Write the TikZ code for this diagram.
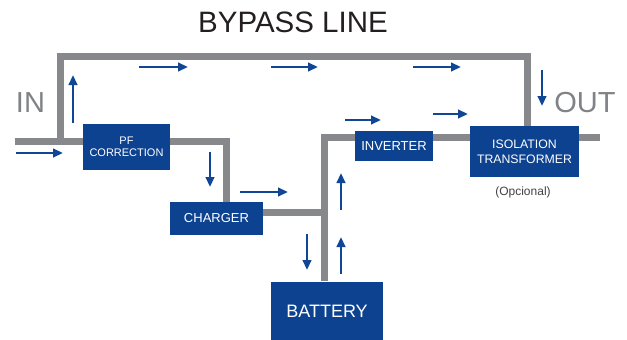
\documentclass[tikz,border=0pt]{standalone}
\usepackage{fontspec}
\setmainfont{Liberation Sans}
\usepackage{xcolor}
\usepackage{tikz}
\usetikzlibrary{arrows.meta, positioning, calc}
\definecolor{upsblue}{RGB}{13,66,145}
\definecolor{flowblue}{RGB}{16,70,150}
\definecolor{wiregray}{RGB}{135,136,139}
\definecolor{labelgray}{RGB}{128,130,133}
\definecolor{titledark}{RGB}{35,31,32}

\tikzset{
  unitbox/.style={fill=upsblue, text=white, inner sep=0pt, align=center},
  wire/.style={draw=wiregray, line width=7pt},
  flow/.style={draw=flowblue, line width=2.6pt, -{Triangle[length=10pt,width=8.5pt]}}
}

\begin{document}
\begin{tikzpicture}[x=1pt, y=-1pt]
  \useasboundingbox (0,0) rectangle (627,340);
  % Title
  \node[text=titledark, font=\fontsize{29.5}{34}\selectfont] (title) at (293,22) {BYPASS LINE};
  \node[text=labelgray, font=\fontsize{29}{34}\selectfont] (inlabel) at (30.5,102.5) {IN};
  \node[text=labelgray, font=\fontsize{29}{34}\selectfont] (outlabel) at (585,102.5) {OUT};
  % Wire junctions
  \coordinate (in) at (15,141);
  \coordinate (bypass in) at (60,141);
  \coordinate (rect) at (226,141);
  \coordinate (dcbus) at (324,212);
  \coordinate (acbus) at (324,137.5);
  \coordinate (bypass out) at (527,137.5);
  \coordinate (out) at (600,137.5);
  % Units
  \coordinate (charger pos) at (216.5,218.5);
  \coordinate (battery pos) at (327,311);
  % Wires
  \draw[wire] (bypass in) -- ++(0,-85) -| (bypass out);
  \draw[wire] (in) -- (rect) -- ($(rect)+(0,62)$);
  \draw[wire] ($(charger pos)+(40,-6.5)$) -- (dcbus);
  \draw[wire] ($(battery pos)+(-3,-30)$) -- (acbus) -- (out);
  % Boxes
  \node[unitbox, minimum width=87pt, minimum height=46pt, font=\fontsize{11}{12}\selectfont] (pfc) at (126.5,147) {PF\\CORRECTION};
  \node[unitbox, minimum width=93pt, minimum height=33pt, font=\fontsize{13}{15}\selectfont] (charger) at (charger pos) {CHARGER};
  \node[unitbox, minimum width=78pt, minimum height=30pt, font=\fontsize{13}{15}\selectfont] (inverter) at (394,146) {INVERTER};
  \node[unitbox, minimum width=109pt, minimum height=51pt, font=\fontsize{12.3}{15}\selectfont] (isolation) at (524.5,151.5) {ISOLATION\\TRANSFORMER};
  \node[unitbox, minimum width=112pt, minimum height=58pt, font=\fontsize{18}{20}\selectfont] (battery) at (battery pos) {BATTERY};
  \node[text=titledark!85, font=\fontsize{12}{14}\selectfont] (optional) at (523,192) {(Opcional)};
  % Power flow
  \foreach \xa/\ya/\xb/\yb in {16/153/63/153, 73/123/73/75, 139/67/188/67, 271/67/318/67,
      413/67/461/67, 542/70/542/106, 210/152/210/187, 240/192/288/192, 307/234/307/270,
      341/210/341/173, 341/274/341/237, 345/120/381/120, 433/114/468/114}
    \draw[flow] (\xa,\ya) -- (\xb,\yb);
\end{tikzpicture}
\end{document}
